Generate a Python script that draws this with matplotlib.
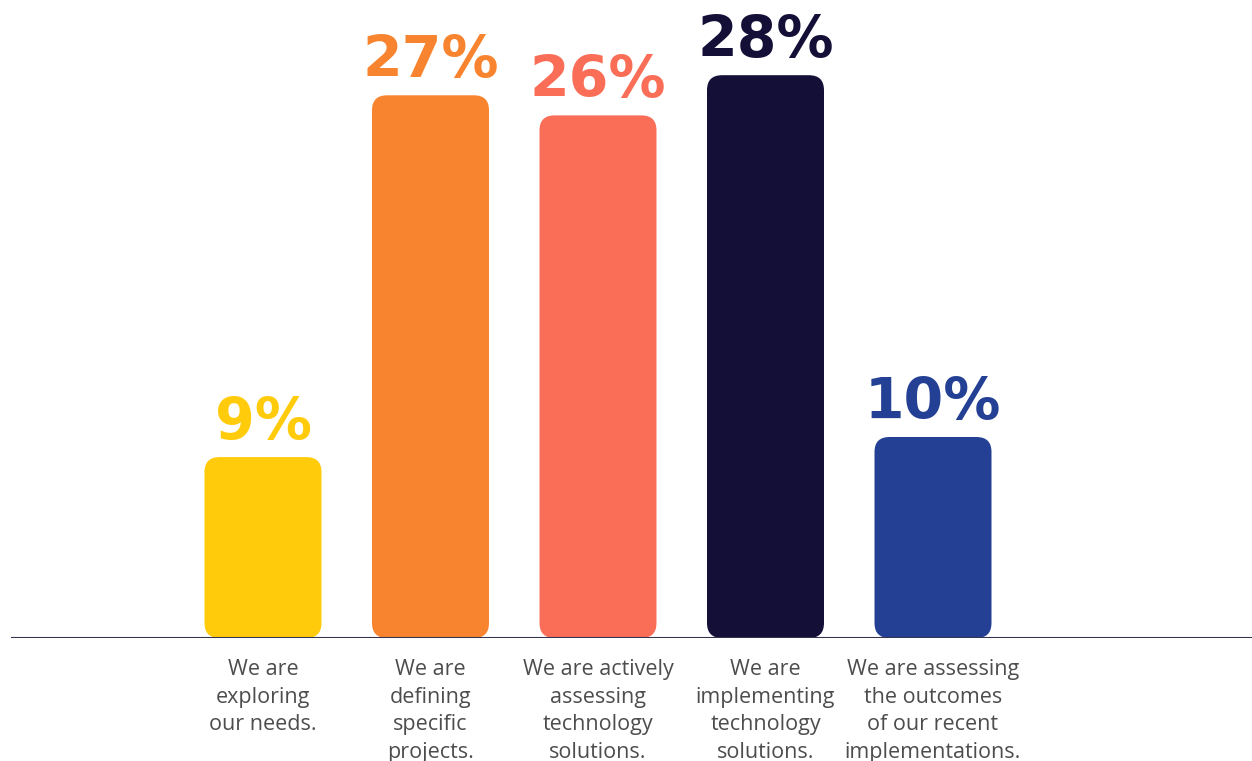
import matplotlib
matplotlib.use("Agg")
import matplotlib.pyplot as plt
from matplotlib.patches import FancyBboxPatch

# stage of the technology journey, share of respondents
categories = [
    "We are\nexploring\nour needs.",
    "We are\ndefining\nspecific\nprojects.",
    "We are actively\nassessing\ntechnology\nsolutions.",
    "We are\nimplementing\ntechnology\nsolutions.",
    "We are assessing\nthe outcomes\nof our recent\nimplementations.",
]
values = [9, 27, 26, 28, 10]
colors = ["#FFCB0B", "#F9842F", "#FA6E58", "#140F37", "#244094"]

W, H = 1252, 761
fig = plt.figure(figsize=(W / 100, H / 100), dpi=100)
ax = fig.add_axes([11 / W, 123 / H, 1241 / W, 638 / H])

px_per_unit = 167.5
px_per_pct = 20.1
x0 = 252 / px_per_unit
ax.set_xlim(-x0, 1241 / px_per_unit - x0)
ax.set_ylim(0, 638 / px_per_pct)

bar_w = 117 / px_per_unit
bars = ax.bar(range(len(values)), values, width=bar_w, color=colors)

# swap the square bars for rounded ones
radius_x = 15 / px_per_unit
aspect = (15 / px_per_pct) / radius_x
for b, c in zip(bars, colors):
    b.set_visible(False)
    rp = FancyBboxPatch((b.get_x(), b.get_y()), b.get_width(), b.get_height(),
                        boxstyle=f"round,pad=0,rounding_size={radius_x}",
                        mutation_aspect=aspect, facecolor=c, edgecolor="none",
                        zorder=2)
    ax.add_patch(rp)

for i, (v, c) in enumerate(zip(values, colors)):
    ax.annotate(f"{v}%", xy=(i, v), xytext=(0, 13), textcoords="offset points",
                ha="center", va="baseline", color=c, fontsize=41,
                fontfamily="DejaVu Sans", fontweight="heavy")

for i, lab in enumerate(categories):
    ax.annotate(lab, xy=(i, 0), xytext=(0, -15), textcoords="offset points",
                ha="center", va="top", color="#4D4D4D", fontsize=15.5,
                fontfamily="Open Sans", linespacing=1.42, annotation_clip=False)

ax.axhline(0, color="#36334F", linewidth=1.5, zorder=3)
for s in ax.spines.values():
    s.set_visible(False)
ax.set_xticks([])
ax.set_yticks([])

fig.savefig("out.png", dpi=100)
